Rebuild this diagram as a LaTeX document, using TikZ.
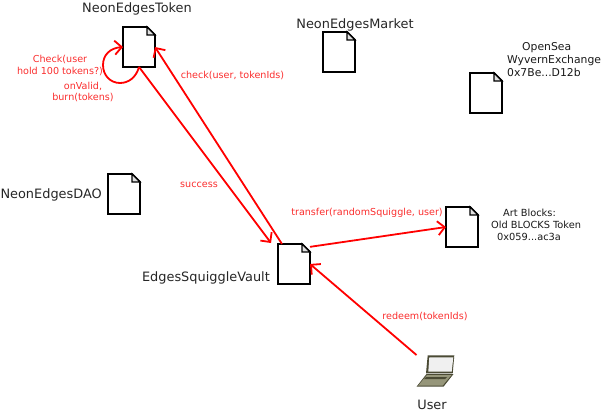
\documentclass[tikz,border=0pt]{standalone}
\usepackage{fontspec}
\setmainfont{DejaVu Sans}
\usepackage{xcolor}
\usepackage{tikz}
\usetikzlibrary{arrows.meta,positioning}
\definecolor{CallRed}{RGB}{255,0,0}
\definecolor{LabelRed}{RGB}{250,45,45}
\definecolor{LaptopDark}{RGB}{74,74,52}
\definecolor{LaptopBase}{RGB}{150,150,122}

\begin{document}
\begin{tikzpicture}[
  x=1pt,y=-1pt,
  docfile/.style={
    minimum width=32pt,
    minimum height=40pt,
    inner sep=0pt,
    outer sep=0pt
  },
  docline/.style={line width=1.8pt, line join=miter, fill=white},
  title/.style={font=\fontsize{12.9}{15}\selectfont, text=black!85, inner sep=0pt, align=center},
  note/.style={font=\fontsize{9.8}{12}\selectfont, text=black!90, inner sep=0pt, align=left, anchor=west},
  call/.style={font=\fontsize{9.6}{11.5}\selectfont, text=LabelRed, inner sep=0pt, align=center},
  arrow/.style={-{Straight Barb[length=7pt,width=14pt,line width=1.8pt]}, line width=1.8pt, draw=CallRed},
  pics/docicon/.style={code={
    \draw[docline] (-16,-20) -- (8,-20) -- (16,-12) -- (16,20) -- (-16,20) -- cycle;
    \draw[line width=1.3pt, fill=black!12] (8,-20) -- (8,-12) -- (16,-12) -- cycle;
  }}
]
\useasboundingbox (0,0) rectangle (601,412);

\node[docfile] (token) at (139,47) {};
\node[docfile] (market) at (339,52) {};
\node[docfile] (opensea) at (486,93) {};
\node[docfile] (dao) at (124,194) {};
\node[docfile] (vault) at (294,264) {};
\node[docfile] (artblocks) at (462,227) {};
\node[minimum width=39pt, minimum height=32pt, inner sep=0pt, outer sep=0pt] (user) at (436,371) {};

\foreach \docname in {token,market,opensea,dao,vault,artblocks}
  \pic at (\docname) {docicon};

% laptop
\fill[LaptopDark] (user.center) ++(-8.3,-15.7) -- ++(26.6,0) -- ++(-1.6,18) -- ++(-26.7,0) -- cycle;
\fill[black!6] (user.center) ++(-6.7,-13.7) -- ++(24,0) -- ++(-1.6,14.4) -- ++(-23.4,0) -- cycle;
\fill[LaptopDark] (user.center) ++(-9.5,3) -- ++(27,0) -- ++(-10,12.7) -- ++(-27,0) -- cycle;
\fill[LaptopBase] (user.center) ++(-9,4) -- ++(24.5,0) -- ++(-8.8,10.5) -- ++(-24.5,0) -- cycle;
\fill[LaptopDark] (user.center) ++(-10,6) -- ++(21,0) -- ++(-2,2.2) -- ++(-21,0) -- cycle;

\node[title] (tokenlabel) at (137,9) {NeonEdgesToken};
\node[title] (marketlabel) at (355,25) {NeonEdgesMarket};
\node[title, anchor=east] (daolabel) at (102,195) {NeonEdgesDAO};
\node[title, anchor=east] (vaultlabel) at (270,278) {EdgesSquiggleVault};
\node[title] (userlabel) at (432,404.5) {User};
\node[note, font=\fontsize{10.8}{13}\selectfont] (opensealabel) at (507,60) {\hspace*{15pt}OpenSea\\WyvernExchange\\0x7Be...D12b};
\node[note] (artlabel) at (491,225) {\hspace*{12pt}Art Blocks:\\Old BLOCKS Token\\\hspace*{6pt}0x059...ac3a};

\node[call] (checklabel) at (60,65.5) {Check(user\\hold 100 tokens?)};
\node[call] (burnlabel) at (83,92) {onValid,\\burn(tokens)};
\node[call] (idslabel) at (232.5,75) {check(user, tokenIds)};
\node[call] (successlabel) at (199,185) {success};
\node[call] (transferlabel) at (367,213) {transfer(randomSquiggle, user)};
\node[call] (redeemlabel) at (425,316) {redeem(tokenIds)};

\coordinate (vaultin) at (271,243);

\draw[arrow] (token.south) .. controls (136,78) and (128,83) .. (120,83)
  .. controls (110,83) and (103,75) .. (103,65)
  .. controls (103,55) and (110,48) .. (token.west);
\draw[arrow] (token.south) -- (vaultin);
\draw[arrow] (vault.121) -- (token.east);
\draw[arrow] (vault.47) -- (artblocks.west);
\draw[arrow] (user.north west) -- (vault.east);
\end{tikzpicture}
\end{document}
